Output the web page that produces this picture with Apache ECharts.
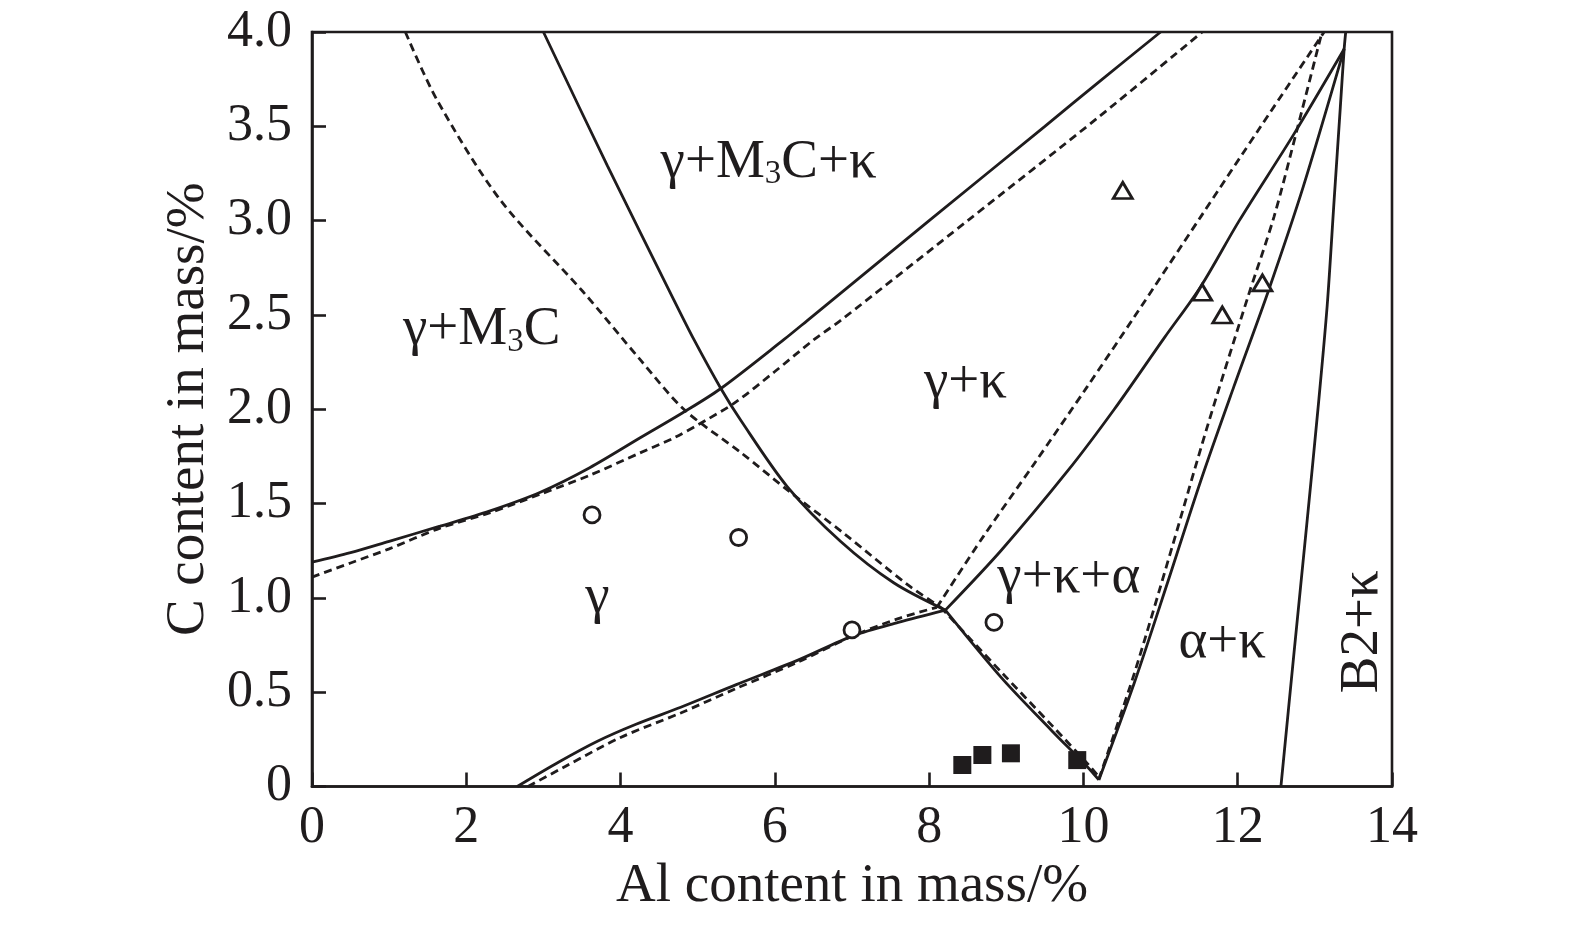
<!DOCTYPE html>
<html><head><meta charset="utf-8">
<script src="https://cdn.jsdelivr.net/npm/echarts@6/dist/echarts.min.js"></script>
<style>html,body{margin:0;padding:0;background:#fff}#c{width:1575px;height:929px}</style>
</head><body><div id="c"></div>
<script>
// ---- data (Al mass%, C mass%) ----
const upperSolid = [[0,1.19],[0.5,1.24],[1,1.30],[1.66,1.38],[2.3,1.46],[2.96,1.56],[3.6,1.69],[4.26,1.85],[4.8,1.98],[5.30,2.11],[6.12,2.37],[6.42,2.47],[8.0,3.0],[9.5,3.5],[10.23,3.745],[11.0,4.0]];
const upperDashed = [[0,1.11],[0.5,1.185],[1,1.26],[1.66,1.37],[2.3,1.45],[2.96,1.55],[3.6,1.65],[4.26,1.77],[4.7,1.85],[5.1,1.94],[5.5,2.04],[6.0,2.2],[6.51,2.37],[6.85,2.47],[8.5,3.0],[10.2,3.55],[11.54,4.0]];
const steepSolid = [[3.0,4.0],[3.83,3.29],[4.69,2.58],[4.95,2.37],[5.30,2.11],[5.56,1.94],[6.16,1.59],[6.85,1.30],[7.54,1.08],[8.21,0.935]];
const steepSolidLow = [[8.21,0.935],[8.93,0.58],[9.58,0.30],[10.05,0.105],[10.2,0.035]];
const steepDashed = [[1.21,4.0],[1.62,3.64],[2.44,3.11],[3.52,2.62],[4.26,2.26],[4.82,2.0],[5.56,1.77],[6.2,1.56],[6.9,1.34],[7.72,1.07],[8.15,0.95]];
const steepDashedLow = [[8.15,0.95],[8.95,0.6],[9.6,0.32],[10.1,0.1],[10.22,0.04]];
const lowerSolid = [[2.66,0],[3.2,0.13],[3.7,0.24],[4.2,0.33],[4.78,0.42],[5.5,0.54],[6.3,0.67],[7.02,0.8],[7.6,0.87],[8.21,0.935]];
const gammaKappaSolid = [[8.21,0.935],[8.93,1.25],[9.79,1.67],[10.40,2.0],[11.05,2.38],[11.52,2.65],[12.02,3.0],[12.73,3.46],[13.38,3.91]];
const lowerDashed = [[2.8,0],[3.3,0.11],[4.0,0.26],[4.78,0.39],[5.5,0.52],[6.3,0.66],[7.02,0.8],[7.6,0.89],[8.1,0.95]];
const gammaKappaDashed = [[8.1,0.95],[8.71,1.33],[9.36,1.71],[10.05,2.12],[10.66,2.49],[11.52,3.02],[12.3,3.5],[13.12,4.0]];
const alphaSolid = [[10.2,0.035],[10.66,0.55],[11.09,1.08],[11.52,1.62],[11.95,2.12],[12.4,2.63],[12.85,3.18],[13.38,3.91]];
const alphaDashed = [[10.2,0.04],[10.66,0.6],[11.15,1.27],[11.6,1.9],[12.12,2.58],[12.47,3.02],[12.78,3.5],[13.08,3.98]];
const b2Solid = [[12.56,0],[12.73,0.71],[12.9,1.41],[13.04,2.0],[13.16,2.55],[13.25,3.11],[13.33,3.6],[13.38,3.91],[13.4,4.0]];

const circlePts = [[3.63,1.44],[5.53,1.32],[7.0,0.83],[8.84,0.87]];
const trianglePts = [[10.51,3.16],[11.54,2.62],[11.8,2.50],[12.32,2.67]];
const squarePts = [[8.43,0.114],[8.69,0.167],[9.06,0.176],[9.92,0.14]];

const regionLabels = ['γ+M{s|3}C+κ','γ+M{s|3}C','γ','γ+κ','γ+κ+α','α+κ','B2+κ'];
const regionLabelPos = [[5.92,3.31],[2.20,2.42],[3.70,1.0],[8.47,2.14],[9.81,1.11],[11.8,0.765],[13.62,0.82]];
const regionLabelRotate = [0,0,0,0,0,0,90];

const xTickLabels = ['0','2','4','6','8','10','12','14'];
const yTickLabels = ['0','0.5','1.0','1.5','2.0','2.5','3.0','3.5','4.0'];

// ---- chart ----
const INK = '#1f1c1d';
const FONT = '"Liberation Serif", "Times New Roman", serif';
function lineS(data, dashed){
  return {type:'line', data:data, symbol:'none', showSymbol:false, smooth:0.3, silent:true,
    lineStyle:{color:INK, width:2.8, type: dashed ? [8,5] : 'solid'}, z:2};
}
const chart = echarts.init(document.getElementById('c'));
chart.setOption({
  animation:false,
  backgroundColor:'#fff',
  grid:{left:312, right:183, top:32, bottom:142.5, show:true, borderColor:INK, borderWidth:2.6},
  xAxis:{type:'value', min:0, max:14, interval:2,
    name:'Al content in mass/%', nameLocation:'middle', nameGap:72,
    nameTextStyle:{fontFamily:FONT, fontSize:55, color:INK},
    axisLine:{lineStyle:{color:INK, width:2.6}},
    axisTick:{inside:true, length:14, lineStyle:{color:INK, width:2.6}},
    axisLabel:{fontFamily:FONT, fontSize:52, color:INK, margin:16,
      formatter:v=>xTickLabels[Math.round(v/2)]},
    splitLine:{show:false}},
  yAxis:{type:'value', min:0, max:4, interval:0.5,
    name:'C content in mass/%', nameLocation:'middle', nameRotate:90, nameGap:96,
    nameTextStyle:{fontFamily:FONT, fontSize:55, color:INK},
    axisLine:{lineStyle:{color:INK, width:2.6}},
    axisTick:{inside:true, length:14, lineStyle:{color:INK, width:2.6}},
    axisLabel:{fontFamily:FONT, fontSize:52, color:INK, margin:20,
      formatter:v=>yTickLabels[Math.round(v/0.5)]},
    splitLine:{show:false}},
  series:[
    lineS(upperSolid,false), lineS(upperDashed,true),
    lineS(steepSolid,false), lineS(steepSolidLow,false),
    lineS(steepDashed,true), lineS(steepDashedLow,true),
    lineS(lowerSolid,false), lineS(gammaKappaSolid,false),
    lineS(lowerDashed,true), lineS(gammaKappaDashed,true),
    lineS(alphaSolid,false), lineS(alphaDashed,true),
    lineS(b2Solid,false),
    {type:'scatter', data:circlePts, symbol:'circle', symbolSize:16, silent:true, z:5,
      itemStyle:{color:'#fff', borderColor:INK, borderWidth:2.8, opacity:1}},
    {type:'scatter', data:trianglePts, symbol:'triangle', symbolSize:[19,16], silent:true, z:5,
      itemStyle:{color:'#fff', borderColor:INK, borderWidth:2.8, opacity:1}},
    {type:'scatter', data:squarePts, symbol:'rect', symbolSize:18, silent:true, z:5,
      itemStyle:{color:INK, opacity:1}},
    {type:'scatter', symbolSize:0, silent:true, z:6,
      itemStyle:{opacity:1},
      data: regionLabels.map((t,i)=>({value:regionLabelPos[i], name:t, label:{rotate:regionLabelRotate[i]}})),
      label:{show:true, position:'inside', formatter:p=>p.name, fontFamily:FONT, fontSize:55, color:INK,
        lineHeight:58, opacity:1,
        rich:{s:{fontFamily:FONT, fontSize:33, lineHeight:33, verticalAlign:'bottom', color:INK}}}}
  ]
});
</script>
</body></html>
